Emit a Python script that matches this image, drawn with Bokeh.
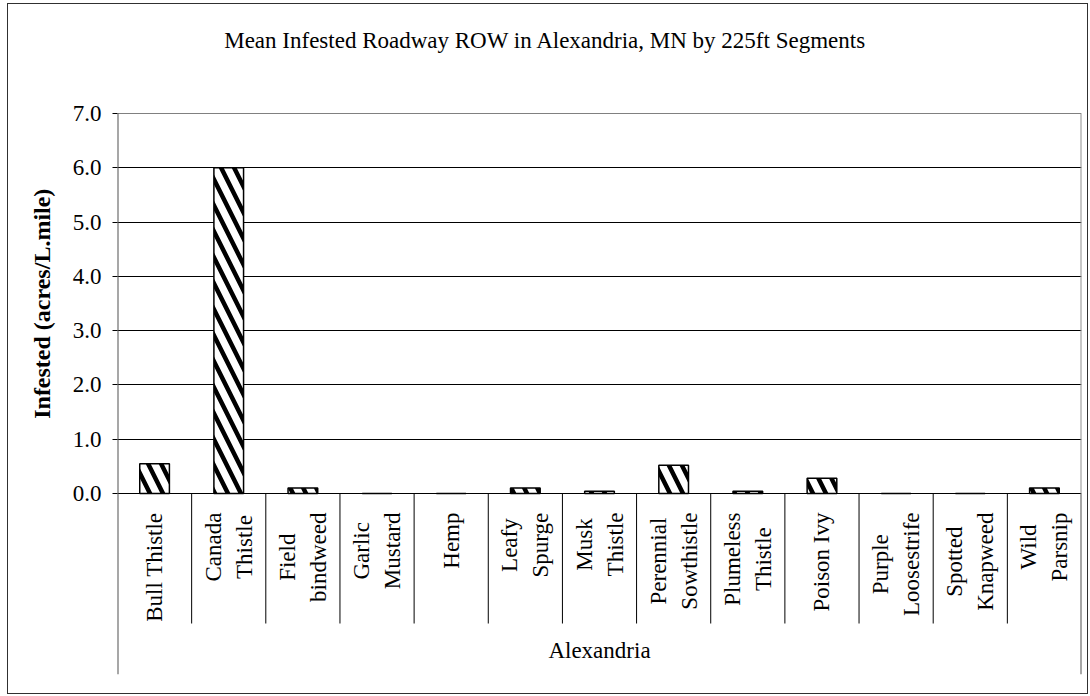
import math

from bokeh.core.properties import value
from bokeh.embed import file_html
from bokeh.models import (ColumnDataSource, FactorRange, FixedTicker, InlineStyleSheet,
                          PrintfTickFormatter, Range1d, Title)
from bokeh.plotting import figure
from bokeh.resources import INLINE

# ---- data -------------------------------------------------------------
categories = ["Bull Thistle", "Canada Thistle", "Field bindweed", "Garlic Mustard",
              "Hemp", "Leafy Spurge", "Musk Thistle", "Perennial Sowthistle",
              "Plumeless Thistle", "Poison Ivy", "Purple Loosestrife",
              "Spotted Knapweed", "Wild Parsnip"]
category_lines = [["Bull Thistle"], ["Canada", "Thistle"], ["Field", "bindweed"],
                  ["Garlic", "Mustard"], ["Hemp"], ["Leafy", "Spurge"],
                  ["Musk", "Thistle"], ["Perennial", "Sowthistle"],
                  ["Plumeless", "Thistle"], ["Poison Ivy"], ["Purple", "Loosestrife"],
                  ["Spotted", "Knapweed"], ["Wild", "Parsnip"]]
infested = [0.55, 6.0, 0.10, 0.0, 0.0, 0.10, 0.04, 0.52, 0.04, 0.28, 0.0, 0.0, 0.10]
group_label = "Alexandria"
y_ticks = [0, 1, 2, 3, 4, 5, 6, 7]
title_text = "Mean Infested Roadway ROW in Alexandria, MN by 225ft Segments"
y_label_text = "Infested (acres/L.mile)"

# ---- layout (pixels) --------------------------------------------------
W, H = 1090, 696
FRAME_L, FRAME_R, FRAME_T, FRAME_B = 117, 1081, 0, 674
PLOT_TOP_PX = 113                  # screen row of the top value line
BASE_PX = 493                      # screen row of the 0.0 value line
Y_MAX = y_ticks[-1]
PX_PER_Y = (BASE_PX - PLOT_TOP_PX) / Y_MAX
PX_PER_X = (FRAME_R - FRAME_L) / len(categories)

FONT = "Liberation Serif"
FS = 23
YLABEL_FS = 24


def data_x(px):
    return (px - FRAME_L) / PX_PER_X


def data_y(py):
    return (BASE_PX - py) / PX_PER_Y


# approximate Times advance widths (1/1000 em) for placing rotated labels
_W = {'B': 667, 'C': 667, 'F': 556, 'G': 722, 'H': 722, 'I': 333, 'K': 722,
      'L': 611, 'M': 889, 'P': 556, 'S': 556, 'T': 611, 'W': 944, 'a': 444,
      'b': 500, 'c': 444, 'd': 500, 'e': 444, 'f': 333, 'g': 500, 'h': 500,
      'i': 278, 'k': 500, 'l': 278, 'm': 778, 'n': 500, 'o': 500, 'p': 500,
      'r': 333, 's': 389, 't': 278, 'u': 500, 'v': 500, 'w': 722, 'y': 500,
      ' ': 250}
# Times bold widths for the value-axis caption
_WB = {'I': 389, 'n': 556, 'f': 333, 'e': 444, 's': 389, 't': 333, 'd': 556,
       ' ': 250, '(': 333, 'a': 500, 'c': 444, 'r': 444, '/': 278, 'L': 667,
       '.': 250, 'm': 833, 'i': 278, 'l': 278, ')': 333}


def text_len(s, size=FS, table=_W):
    return sum(table.get(c, 500) for c in s) * size / 1000.0


p = figure(width=W, height=H,
           x_range=FactorRange(*categories, range_padding=0),
           y_range=Range1d(data_y(FRAME_B), data_y(FRAME_T)),
           x_axis_location=None, y_axis_location="left",
           toolbar_location=None, output_backend="svg",
           min_border_left=FRAME_L, min_border_right=W - FRAME_R,
           min_border_top=FRAME_T, min_border_bottom=H - FRAME_B)
p.background_fill_color = "white"
p.border_fill_color = "white"
p.outline_line_color = None
p.title.text = ""

# thin border round the whole chart area
p.stylesheets = [InlineStyleSheet(css="""
:host { position: relative; }
:host::after, .bk-Canvas::after {
  content: ""; position: absolute; left: 7px; top: 3px;
  width: 1081px; height: 691px; box-sizing: border-box;
  border: 1px solid #303030; pointer-events: none; z-index: 50;
}
""")]

# value axis (its line is drawn below so it starts at the top value line)
ax = p.yaxis[0]
ax.ticker = FixedTicker(ticks=y_ticks)
ax.formatter = PrintfTickFormatter(format="%.1f")
ax.major_label_text_font = FONT
ax.major_label_text_font_size = f"{FS}px"
ax.major_label_text_color = "black"
ax.major_label_standoff = 11
ax.major_tick_out = 5
ax.major_tick_in = 0
ax.minor_tick_line_color = None
ax.axis_line_color = None
ax.major_tick_line_color = "black"

# value-axis caption, centred on the 0-7 value span
ylab_center = (PLOT_TOP_PX + BASE_PX) / 2
ylab_len = text_len(y_label_text, YLABEL_FS, _WB)
p.add_layout(Title(text=y_label_text, align="left",
                   offset=FRAME_B - (ylab_center + ylab_len / 2), standoff=30,
                   text_font=FONT, text_font_size=f"{YLABEL_FS}px",
                   text_font_style="bold", text_color="black"), "left")

# gridlines: black inside the plot, grey along the top edge
p.ygrid.ticker = FixedTicker(ticks=y_ticks[:-1])
p.ygrid.grid_line_color = "black"
p.ygrid.grid_line_width = 1
p.xgrid.grid_line_color = None

y_low = data_y(FRAME_B)
n = len(categories)
p.segment(x0=[0], x1=[n], y0=[Y_MAX], y1=[Y_MAX], line_color="#808080", line_width=1)

# left and right edges of the plot area, running down through the label band
p.segment(x0=[0, n], x1=[0, n], y0=[Y_MAX, 0], y1=[y_low, y_low],
          line_color="#505050", line_width=2)
p.segment(x0=[n], x1=[n], y0=[Y_MAX], y1=[0], line_color="#909090", line_width=2)

# bars
bars = ColumnDataSource(dict(x=categories, top=infested))
p.vbar(x="x", top="top", width=0.4, source=bars,
       fill_color="white", line_color="black", line_width=1.5,
       hatch_pattern="\\", hatch_color="black", hatch_scale=26, hatch_weight=4.5)

# category separators below the value line
sep_x = list(range(1, n))
p.segment(x0=sep_x, x1=sep_x, y0=[0] * len(sep_x), y1=[data_y(623)] * len(sep_x),
          line_color="black", line_width=1)

# rotated category names, one glyph per line
xs, texts, xo, yo = [], [], [], []
LINE_GAP = 31
for cat, lines in zip(categories, category_lines):
    block = max(text_len(s) for s in lines)
    k_n = len(lines)
    for k, s in enumerate(lines):
        xs.append(cat)
        texts.append(s)
        xo.append((k - (k_n - 1) / 2) * LINE_GAP)
        yo.append((512 - BASE_PX) + block / 2)
labels = ColumnDataSource(dict(x=xs, text=texts, xo=xo, yo=yo))
p.text(x="x", y=0, text="text", x_offset="xo", y_offset="yo", source=labels,
       angle=math.pi / 2, text_align="center", text_baseline="middle",
       text_font=value(FONT), text_font_size=f"{FS}px", text_color="black")

# group name under the categories
p.text(x=[categories[n // 2]], y=[data_y(650)], text=[group_label],
       text_align="center", text_baseline="middle",
       text_font=value(FONT), text_font_size=f"{FS}px", text_color="black")

# chart title
p.text(x=[data_x(W / 2)], y=[data_y(40)], text=[title_text],
       text_align="center", text_baseline="middle",
       text_font=value(FONT), text_font_size=f"{FS}px", text_color="black")

open("out.html", "w").write(file_html(p, INLINE))
